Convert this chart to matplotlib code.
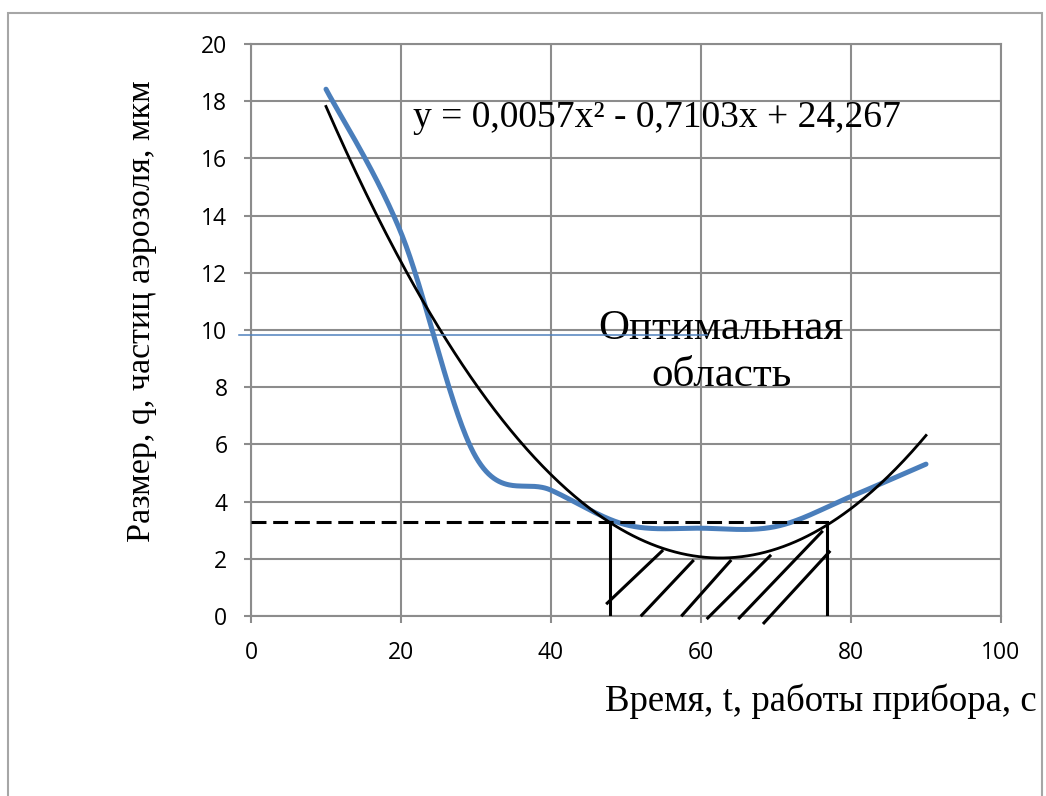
import numpy as np
import matplotlib
matplotlib.use("Agg")
import matplotlib.pyplot as plt
from matplotlib.patches import Rectangle

# ---------------- data ----------------
time_s = [10, 20, 30, 40, 50, 60, 70, 80, 90]
particle_size = [18.42, 13.4, 5.55, 4.4, 3.19, 3.07, 3.13, 4.18, 5.31]

equation_text = "y = 0,0057x\u00b2 - 0,7103x + 24,267"
region_line1 = "Оптимальная"
region_line2 = "область"
xlabel_text = "Время, t, работы прибора, с"
ylabel_text = "Размер, q, частиц аэрозоля, мкм"

x_ticks = [0, 20, 40, 60, 80, 100]
y_ticks = [0, 2, 4, 6, 8, 10, 12, 14, 16, 18, 20]

# annotation elements (data units)
blue_ref_level = 9.84
blue_ref_x = [-1.6, 60.75]
optimal_level = 3.3
optimal_x = [0, 76.8]
bound_left = 47.8
bound_right = 76.8
hatch_x0 = [47.5, 52.1, 57.5, 60.9, 65.1, 68.4]
hatch_y0 = [0.45, 0.03, 0.03, -0.07, -0.07, -0.24]
hatch_x1 = [54.8, 58.9, 63.9, 69.2, 76.1, 77.1]
hatch_y1 = [2.27, 1.92, 1.92, 2.10, 2.94, 2.24]


def excel_smooth(x, y, n=60):
    pts = np.column_stack([x, y]).astype(float)
    out = []
    for i in range(len(pts) - 1):
        p0 = pts[i - 1] if i > 0 else pts[i]
        p1 = pts[i]
        p2 = pts[i + 1]
        p3 = pts[i + 2] if i + 2 < len(pts) else pts[i + 1]
        c1 = p1 + (p2 - p0) / 6.0
        c2 = p2 - (p3 - p1) / 6.0
        t = np.linspace(0, 1, n)[:, None]
        seg = ((1 - t) ** 3) * p1 + 3 * ((1 - t) ** 2) * t * c1 + 3 * (1 - t) * t ** 2 * c2 + t ** 3 * p2
        out.append(seg if i == 0 else seg[1:])
    return np.vstack(out)


fig = plt.figure(figsize=(10.46, 7.96), dpi=100)
fig.patch.set_facecolor("white")
fig.patches.append(Rectangle((8 / 1046, -0.02), (1042 - 8) / 1046, 1.02 - 13 / 796,
                             transform=fig.transFigure, fill=False,
                             edgecolor="#a6a6a6", linewidth=1.5, figure=fig))

ax = fig.add_axes([251 / 1046, 1 - 616 / 796, 750 / 1046, (616 - 44) / 796])
ax.set_xlim(0, 100)
ax.set_ylim(0, 20)
ax.set_xticks(x_ticks)
ax.set_yticks(y_ticks)
grid_c = "#8c8c8c"
ax.grid(True, color=grid_c, linewidth=1.5)
ax.set_axisbelow(True)
for s in ax.spines.values():
    s.set_color(grid_c)
    s.set_linewidth(1.5)
ax.tick_params(axis="both", direction="out", length=5, width=1.5, color=grid_c,
               labelsize=16.5, labelcolor="black")
ax.tick_params(axis="x", pad=13)
ax.tick_params(axis="y", pad=12)
ax.tick_params(top=False, right=False)
for lab in ax.get_xticklabels() + ax.get_yticklabels():
    lab.set_family("Open Sans")

# smoothed data series
sm = excel_smooth(time_s, particle_size)
ax.plot(sm[:, 0], sm[:, 1], color="#4A7EBB", linewidth=3.6, solid_capstyle="round", zorder=3)

# polynomial trendline
coef = np.polyfit(time_s, particle_size, 2)
xt = np.linspace(min(time_s), max(time_s), 300)
ax.plot(xt, np.polyval(coef, xt), color="black", linewidth=2.0, zorder=4)

# thin reference line
ax.plot(blue_ref_x, [blue_ref_level, blue_ref_level], color="#4F81BD", linewidth=1.1,
        clip_on=False, zorder=5)

# optimal region
ax.plot(optimal_x, [optimal_level, optimal_level], color="black", linewidth=2.2,
        linestyle=(0, (4.9, 2.2)), zorder=5)
ax.plot([bound_left, bound_left], [0, optimal_level], color="black", linewidth=2.2, zorder=5)
ax.plot([bound_right, bound_right], [0, optimal_level], color="black", linewidth=2.2, zorder=5)
for a, b, c, d in zip(hatch_x0, hatch_y0, hatch_x1, hatch_y1):
    ax.plot([a, c], [b, d], color="black", linewidth=2.2, clip_on=False, zorder=5)

serif = "Liberation Serif"
fig.text(413 / 1046, 1 - 127 / 796, equation_text,
         family=serif, fontsize=27, ha="left", va="baseline", zorder=6)
ax.text(62.7, 9.67, region_line1, family=serif, fontsize=31, ha="center", va="baseline", zorder=2)
ax.text(62.7, 8.03, region_line2, family=serif, fontsize=31, ha="center", va="baseline", zorder=2)
fig.text(1037 / 1046, 1 - 711 / 796, xlabel_text, family=serif, fontsize=26.5,
         ha="right", va="baseline")
fig.text(142 / 1046, 1 - 311 / 796, ylabel_text, family=serif, fontsize=24.5,
         ha="center", va="center", rotation=90)

fig.savefig("out.png", dpi=100, facecolor="white")
